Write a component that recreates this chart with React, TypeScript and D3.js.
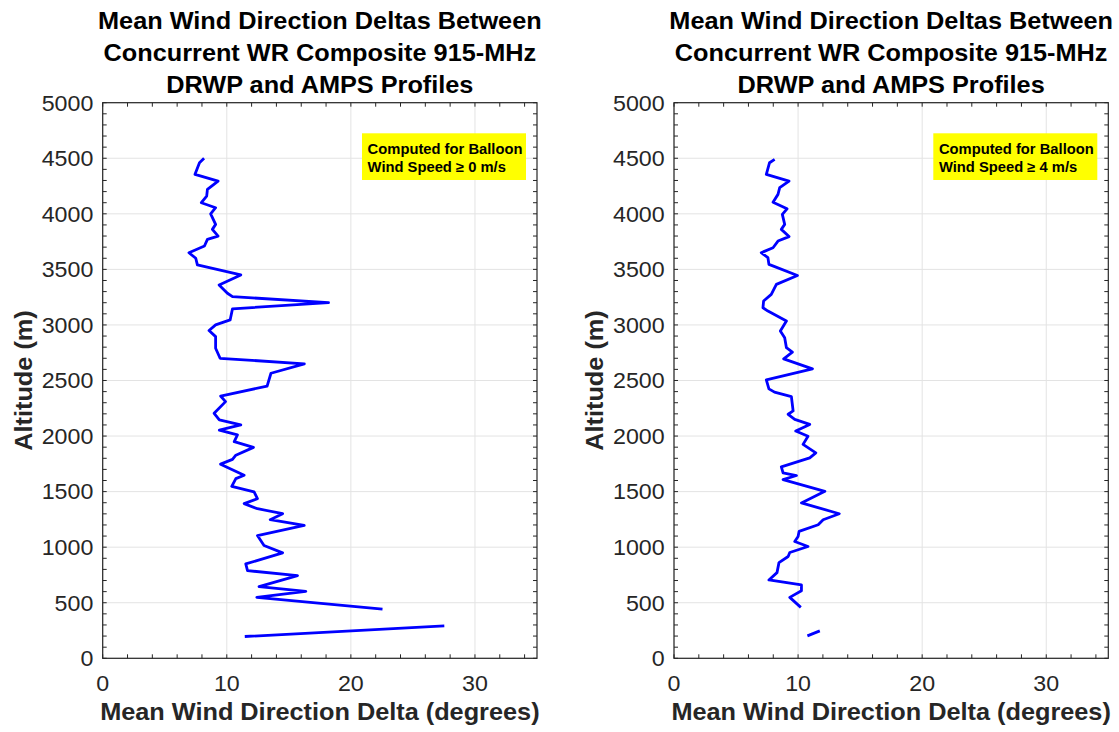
import React from "react";
import * as d3 from "d3";

// ---------- data ----------
const xTicks = [0, 10, 20, 30];
const yTicks = [0, 500, 1000, 1500, 2000, 2500, 3000, 3500, 4000, 4500, 5000];

const titleLines = [
  "Mean Wind Direction Deltas Between",
  "Concurrent WR Composite 915-MHz",
  "DRWP and AMPS Profiles",
];
const xLabel = "Mean Wind Direction Delta (degrees)";
const yLabel = "Altitude (m)";

const leftNoteLines = ["Computed for Balloon", "Wind Speed \u2265 0 m/s"];
const rightNoteLines = ["Computed for Balloon", "Wind Speed \u2265 4 m/s"];

// left panel: wind speed >= 0 m/s (NaN = gap)
const leftAltitude = [
  4500, 4460, 4355, 4295, 4220, 4160, 4100, 4055, 4000, 3905, 3860, 3800, 3770, 3710, 3650, 3600,
  3540, 3450, 3360, 3285, 3255, 3200, 3145, 3045, 3000, 2950, 2895, 2790, 2700, 2650, 2565, 2450,
  2360, 2310, 2205, 2145, 2100, 2054, 2010, 1950, 1898, 1828, 1790, 1747, 1648, 1617, 1548, 1497,
  1437, 1392, 1346, 1301, 1247, 1196, 1105, 1015, 949, 849, 789, 744, 645, 602, 548, 443, 370,
  292, 196,
];
const leftDelta = [
  8.17, 7.8, 7.44, 9.3, 8.44, 8.38, 7.95, 9.1, 8.7, 9.1, 8.84, 9.3, 8.44, 8.2, 6.95, 7.5,
  7.63, 11.13, 9.38, 10.05, 10.46, 18.2, 10.46, 10.27, 9.1, 8.57, 9.1, 9.1, 9.46, 16.25, 13.56, 13.25,
  9.5, 9.9, 8.98, 9.4, 11.13, 9.4, 10.86, 10.6, 12.15, 10.73, 10.46, 9.5, 11.4, 10.73, 10.4, 12.2,
  12.47, 11.4, 12.47, 14.5, 13.5, 16.24, 12.47, 13.0, 14.5, 11.53, 11.67, 15.7, 12.6, 16.37, 12.42, 22.55, NaN,
  27.53, 11.45,
];

// right panel: wind speed >= 4 m/s (NaN = gap)
const rightAltitude = [
  4490, 4460, 4355, 4295, 4235, 4175, 4105, 4045, 3995, 3905, 3860, 3795, 3755, 3695, 3650, 3605,
  3545, 3445, 3365, 3275, 3215, 3155, 3125, 3035, 2945, 2885, 2795, 2755, 2695, 2605, 2505, 2425,
  2395, 2355, 2226, 2196, 2150, 2105, 2045, 1999, 1925, 1849, 1804, 1723, 1669, 1645, 1608, 1503,
  1398, 1301, 1247, 1202, 1142, 1096, 1051, 1006, 952, 916, 861, 771, 705, 660, 608, 548, 458, 350,
  247, 202,
];
const rightDelta = [
  8.11, 7.7, 7.44, 9.27, 8.52, 8.38, 7.98, 9.11, 8.73, 8.92, 8.65, 9.27, 8.38, 7.98, 7.03, 7.57,
  7.65, 9.95, 8.25, 7.84, 7.22, 7.17, 7.57, 9.06, 8.57, 8.92, 9.06, 9.54, 8.84, 11.16, 7.44, 7.65,
  8.1, 9.46, 9.6, 9.2, 9.73, 10.94, 9.81, 10.8, 10.4, 11.43, 10.94, 8.65, 8.79, 9.87, 8.79, 12.16,
  10.27, 13.32, 12.02, 11.62, 10.08, 10.0, 9.73, 10.8, 9.33, 9.2, 8.46, 8.3, 7.65, 10.27, 10.27, 9.33, 10.22, NaN,
  11.75, 10.75,
];

// ---------- layout / style ----------
const W = 1119;
const H = 732;
const FONT = "'Liberation Sans', Arial, Helvetica, sans-serif";
const AXIS_COLOR = "#262626";
const GRID_COLOR = "#e3e3e3";
const LINE_COLOR = "#0000ff";
const PLOT_TOP = 102.7;
const PLOT_H = 555.6;
const PLOT_W = 434.3;

type PanelProps = {
  left: number;
  alt: number[];
  val: number[];
  note: string[];
};

function SText(props: {
  x: number;
  y: number;
  size: number;
  bold?: boolean;
  anchor?: "start" | "middle" | "end";
  rotate?: number;
  sx?: number;
  fill?: string;
  children: React.ReactNode;
}) {
  const { x, y, size, bold, anchor = "start", rotate = 0, sx = 1, fill = AXIS_COLOR, children } = props;
  return (
    <text
      transform={`translate(${x},${y}) rotate(${rotate}) scale(${sx},1)`}
      textAnchor={anchor}
      fontFamily={FONT}
      fontSize={size}
      fontWeight={bold ? "bold" : "normal"}
      fill={fill}
    >
      {children}
    </text>
  );
}

function Panel({ left, alt, val, note }: PanelProps) {
  const x = d3.scaleLinear().domain([0, 35]).range([0, PLOT_W]);
  const y = d3.scaleLinear().domain([0, 5000]).range([PLOT_H, 0]);
  const pts = alt.map((a, i) => [val[i], a] as [number, number]);
  const line = d3
    .line<[number, number]>()
    .defined((d) => !isNaN(d[0]) && !isNaN(d[1]))
    .x((d) => x(d[0]))
    .y((d) => y(d[1]));

  const xMinor = d3.range(0, 35.001, 2);
  const yMinor = d3.range(0, 5000.1, 100);
  const tl = 4;
  const cx = PLOT_W / 2;

  return (
    <g transform={`translate(${left},${PLOT_TOP})`}>
      {/* grid */}
      {xTicks.map((t) => (
        <line key={"gx" + t} x1={x(t)} x2={x(t)} y1={0} y2={PLOT_H} stroke={GRID_COLOR} strokeWidth={1} />
      ))}
      {yTicks.map((t) => (
        <line key={"gy" + t} x1={0} x2={PLOT_W} y1={y(t)} y2={y(t)} stroke={GRID_COLOR} strokeWidth={1} />
      ))}
      {/* data line */}
      <path d={line(pts) || ""} fill="none" stroke={LINE_COLOR} strokeWidth={2.8} strokeLinejoin="round" />
      {/* note box */}
      <g transform={`translate(${PLOT_W - 175},${30.6})`}>
        <rect x={0} y={0} width={164} height={46.7} fill="#ffff00" />
        {note.map((s, i) => (
          <SText key={i} x={5.6} y={20.8 + i * 18} size={14.2} bold sx={1.04} fill="#000">
            {s}
          </SText>
        ))}
      </g>
      {/* minor/major ticks, inward, all sides */}
      {xMinor.map((t) => (
        <g key={"tx" + t}>
          <line x1={x(t)} x2={x(t)} y1={PLOT_H} y2={PLOT_H - tl} stroke={AXIS_COLOR} />
          <line x1={x(t)} x2={x(t)} y1={0} y2={tl} stroke={AXIS_COLOR} />
        </g>
      ))}
      {yMinor.map((t) => (
        <g key={"ty" + t}>
          <line x1={0} x2={tl} y1={y(t)} y2={y(t)} stroke={AXIS_COLOR} />
          <line x1={PLOT_W} x2={PLOT_W - tl} y1={y(t)} y2={y(t)} stroke={AXIS_COLOR} />
        </g>
      ))}
      {/* box */}
      <rect x={0} y={0} width={PLOT_W} height={PLOT_H} fill="none" stroke={AXIS_COLOR} strokeWidth={1.2} />
      {/* tick labels */}
      {xTicks.map((t) => (
        <SText key={"lx" + t} x={x(t)} y={PLOT_H + 32.5} size={21.5} anchor="middle" sx={1.08}>
          {String(t)}
        </SText>
      ))}
      {yTicks.map((t) => (
        <SText key={"ly" + t} x={-9.4} y={y(t) + 7.8} size={21.5} anchor="end" sx={1.08}>
          {String(t)}
        </SText>
      ))}
      {/* axis labels */}
      <SText x={cx} y={PLOT_H + 62} size={23} bold anchor="middle" sx={1.1}>
        {xLabel}
      </SText>
      <SText x={-71} y={PLOT_H / 2} size={23} bold anchor="middle" rotate={-90} sx={1.1}>
        {yLabel}
      </SText>
      {/* title */}
      {titleLines.map((s, i) => (
        <SText key={"t" + i} x={cx} y={-74.2 + i * 32.2} size={23} bold anchor="middle" sx={1.1} fill="#000">
          {s}
        </SText>
      ))}
    </g>
  );
}

export default function App() {
  return (
    <svg
      width={W}
      height={H}
      viewBox={`0 0 ${W} ${H}`}
      style={{ position: "absolute", left: 0, top: 0, background: "#fff" }}
    >
      <rect x={0} y={0} width={W} height={H} fill="#fff" />
      <Panel left={102.7} alt={leftAltitude} val={leftDelta} note={leftNoteLines} />
      <Panel left={674} alt={rightAltitude} val={rightDelta} note={rightNoteLines} />
    </svg>
  );
}
